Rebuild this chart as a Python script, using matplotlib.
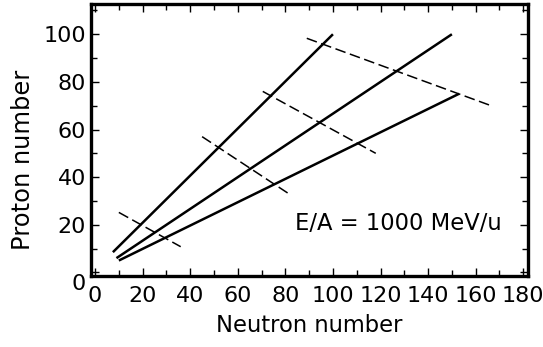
import matplotlib
matplotlib.use('Agg')
import matplotlib.pyplot as plt
from matplotlib.ticker import MultipleLocator
from matplotlib.transforms import ScaledTranslation

# Solid lines: constant N/Z chains (start, end) in (N, Z)
chain_n = [[7.5, 100], [9, 150], [10, 153]]
chain_z = [[8.5, 100], [6, 100], [5, 75]]

# Dashed lines crossing the chains
cross_n = [[10, 36], [45, 81.5], [70.5, 118], [89, 166.5]]
cross_z = [[25.2, 10.8], [57, 33], [76, 50], [98.3, 70]]

x_ticks = [0, 20, 40, 60, 80, 100, 120, 140, 160, 180]
y_ticks = [0, 20, 40, 60, 80, 100]

fig = plt.figure(figsize=(5.43, 3.47), dpi=100)
ax = fig.add_axes([0.1676, 0.2046, 0.9724 - 0.1676, 0.9885 - 0.2046])

for n, z in zip(chain_n, chain_z):
    ax.plot(n, z, color='black', lw=1.8, solid_capstyle='butt')

for n, z in zip(cross_n, cross_z):
    ax.plot(n, z, color='black', lw=1.1, linestyle=(0, (7, 3)))

ax.text(127.6, 20.6, 'E/A = 1000 MeV/u', fontsize=16.3, ha='center', va='center')

ax.set_xlim(-1.7, 182)
ax.set_ylim(-1.5, 112.7)
ax.set_xticks(x_ticks)
ax.set_yticks(y_ticks)
ax.xaxis.set_minor_locator(MultipleLocator(10))
ax.yaxis.set_minor_locator(MultipleLocator(10))
ax.tick_params(which='both', direction='in', top=True, right=True, width=1, labelsize=16)
ax.tick_params(axis='x', which='major', pad=7)
ax.tick_params(which='major', length=6)
ax.tick_params(which='minor', length=4)
for s in ax.spines.values():
    s.set_linewidth(2.4)

# the "0" on the y axis sits a bit below the corner in the original
lab0 = ax.get_yticklabels()[0]
lab0.set_transform(lab0.get_transform() + ScaledTranslation(0, -0.1, fig.dpi_scale_trans))

ax.set_xlabel('Neutron number', fontsize=16.3, labelpad=6)
ax.set_ylabel('Proton number', fontsize=17.4)
ax.yaxis.set_label_coords(-0.129, 0.426)

fig.savefig('out.png', dpi=100)
